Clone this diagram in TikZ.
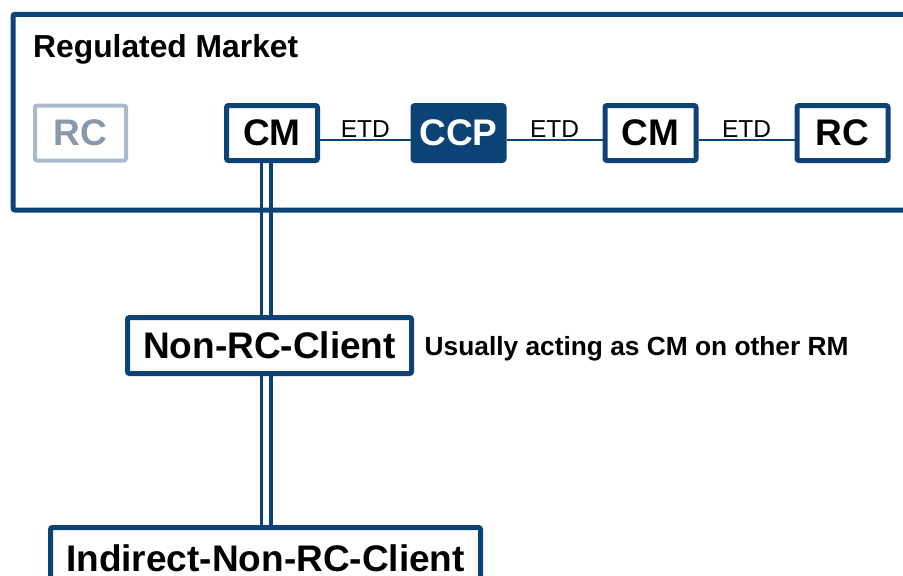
\documentclass[tikz,border=0pt]{standalone}
\usepackage{fontspec}
\setmainfont{Liberation Sans}
\usetikzlibrary{backgrounds}
\definecolor{navy}{RGB}{13,66,119}
\definecolor{greyrc}{RGB}{169,186,205}
\definecolor{greytxt}{RGB}{138,152,171}
\begin{document}
\begin{tikzpicture}[x=1pt,y=-1pt,
  box/.style={draw=navy, line width=5pt, fill=white, rounded corners=2pt,
    minimum width=91pt, minimum height=55pt, inner sep=0pt,
    font=\fontsize{37}{40}\selectfont\bfseries},
  ghostbox/.style={box, draw=greyrc, line width=4pt, text=greytxt},
  ccpbox/.style={box, fill=navy, text=white},
  client/.style={draw=navy, line width=5pt, fill=white, rounded corners=2pt,
    minimum height=56pt, inner sep=0pt,
    font=\fontsize{37}{40}\selectfont\bfseries},
  link/.style={draw=navy, line width=2pt},
  etd/.style={font=\fontsize{24.5}{26}\selectfont, inner sep=0pt},
  dbl/.style={draw=navy, line width=3.5pt, double=white, double distance=6pt},
  frame/.style={draw=navy, line width=5pt, rounded corners=2pt},
  title/.style={font=\fontsize{31.8}{34}\selectfont\bfseries, inner sep=0pt},
  note/.style={font=\fontsize{26.3}{28}\selectfont\bfseries, inner sep=0pt}
]
\useasboundingbox (0,0) rectangle (903,576);

\node[title, anchor=base west] (rm) at (33,57.5) {Regulated Market};

\node[ghostbox] (rc0) at (80.5,133) {RC};
\node[box] (cm1) at (272,133) {CM};
\node[ccpbox] (ccp) at (458.5,133) {CCP};
\node[box] (cm2) at (650.5,133) {CM};
\node[box] (rc2) at (842.5,133) {RC};

\node[client, minimum width=284pt] (nrc) at (269.5,345.5) {Non-RC-Client};
\node[client, minimum width=430pt, minimum height=62pt] (ind) at (265.5,558.5) {Indirect-Non-RC-Client};

\node[note, anchor=base west] (usual) at (424.5,355) {Usually acting as CM on other RM};

\draw[link] ([yshift=-7pt]cm1.east) -- node[etd, anchor=base, yshift=3pt] (e1) {ETD} ([yshift=-7pt]ccp.west);
\draw[link] ([yshift=-7pt]ccp.east) -- node[etd, anchor=base, yshift=3pt] (e2) {ETD} ([yshift=-7pt]cm2.west);
\draw[link] ([yshift=-7pt]cm2.east) -- node[etd, anchor=base, yshift=3pt] (e3) {ETD} ([yshift=-7pt]rc2.west);

\coordinate (lx) at (266,0);
\begin{scope}[on background layer]
  \draw[dbl] (cm1 -| lx) -- (nrc -| lx);
  \draw[dbl] (nrc -| lx) -- (ind -| lx);
  \draw[frame] (13,14.3) rectangle (925,210);
\end{scope}
\end{tikzpicture}
\end{document}
